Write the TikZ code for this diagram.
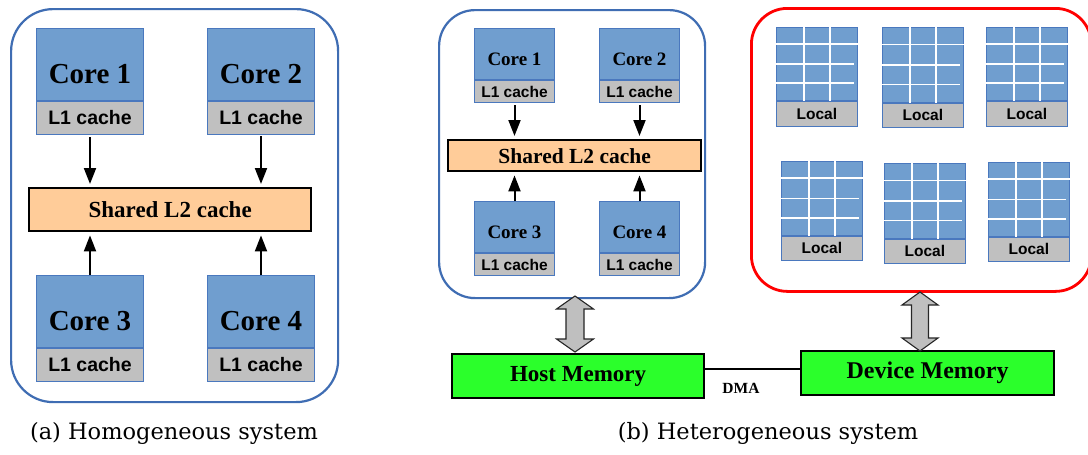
\documentclass[tikz,border=0pt]{standalone}
\usepackage{fontspec}
\setmainfont{Liberation Serif}
\setsansfont{Liberation Sans}
\newfontfamily\capfont{DejaVu Serif}
\usetikzlibrary{arrows.meta,calc}
\definecolor{coreblue}{HTML}{709ECF}
\definecolor{coreedge}{HTML}{4A78BE}
\definecolor{outerblue}{HTML}{3F6DB3}
\definecolor{lgray}{HTML}{C0C0C0}
\definecolor{l2orange}{HTML}{FFCC99}
\definecolor{memgreen}{HTML}{2BFF2B}
\definecolor{arrowgray}{HTML}{BFBFBF}
\newcommand\DblArrow[4]{% top coordinate, half head, half shaft, shaft length
  \draw[dblarrow] (#1) -- ++(#2,13) -- ++(-#2+#3,0) -- ++(0,#4) -- ++(#2-#3,0)
    -- ++(-#2,13) -- ++(-#2,-13) -- ++(#2-#3,0) -- ++(0,-#4) -- ++(-#2+#3,0) -- cycle;}
\begin{document}
\begin{tikzpicture}[x=1pt,y=-1pt,
  outerbox/.style={draw=outerblue, line width=2.2pt, rounded corners=#1, inner sep=0pt, anchor=north west},
  coreA/.style={draw=coreedge, fill=coreblue, line width=1pt, inner sep=0pt, anchor=north west,
    minimum width=107pt, minimum height=72pt, font=\bfseries\fontsize{29}{29}\selectfont,
    text height=38pt, text depth=0pt},
  l1A/.style={draw=coreedge, fill=lgray, line width=1pt, inner sep=0pt, anchor=north,
    minimum width=107pt, minimum height=33pt, font=\sffamily\bfseries\fontsize{19.5}{20}\selectfont},
  coreB/.style={draw=coreedge, fill=coreblue, line width=1pt, inner sep=0pt, anchor=north west,
    minimum width=80pt, minimum height=51pt, font=\bfseries\fontsize{19}{19}\selectfont,
    text height=23pt, text depth=0pt},
  l1B/.style={draw=coreedge, fill=lgray, line width=1pt, inner sep=0pt, anchor=north,
    minimum width=80pt, minimum height=22pt, font=\sffamily\bfseries\fontsize{15.5}{16}\selectfont},
  l2box/.style={draw=black, fill=l2orange, line width=2.4pt, inner sep=0pt, anchor=north west},
  flowarrow/.style={line width=2pt, -{Triangle[length=16pt,width=12pt]}},
  gridbox/.style={draw=coreedge, fill=coreblue, line width=0.8pt, inner sep=0pt, anchor=north west,
    minimum width=81pt, minimum height=73pt},
  localbox/.style={draw=coreedge, fill=lgray, line width=0.8pt, inner sep=0pt, anchor=north,
    minimum width=81pt, minimum height=25pt, font=\sffamily\bfseries\fontsize{15.5}{15.5}\selectfont},
  gridline/.style={draw=white, line width=1.5pt},
  membox/.style={draw=black, fill=memgreen, line width=2.2pt, inner sep=0pt, anchor=north west,
    minimum width=252pt, minimum height=44pt, font=\bfseries\fontsize{23}{23}\selectfont},
  dblarrow/.style={draw=black!85, fill=arrowgray, line width=1.1pt, line join=miter},
  dmaline/.style={draw=black, line width=1.8pt},
  caption/.style={font=\capfont\fontsize{22.5}{23}\selectfont}
]
\useasboundingbox (0,0) rectangle (1088,455);
\fill[white] (0,0) rectangle (1088,455);

% ---------------- (a) Homogeneous ----------------
\node[outerbox=42pt, minimum width=327pt, minimum height=393pt] (asys) at (10,8) {};
\node[coreA] (c1a) at (36,28) {Core 1};
\node[l1A] (l1a) at (c1a.south) {L1 cache};
\node[coreA] (c2a) at (207,28) {Core 2};
\node[l1A] (l2ca) at (c2a.south) {L1 cache};
\node[coreA] (c3a) at (36,275) {Core 3};
\node[l1A] (l3a) at (c3a.south) {L1 cache};
\node[coreA] (c4a) at (207,275) {Core 4};
\node[l1A] (l4a) at (c4a.south) {L1 cache};
\node[l2box, minimum width=282pt, minimum height=43pt, font=\bfseries\fontsize{23}{23}\selectfont]
  (sa) at (28,187) {Shared L2 cache};
\draw[flowarrow] ([yshift=-2pt]l1a.south) -- ([yshift=3pt]l1a.south |- sa.north);
\draw[flowarrow] ([yshift=-1pt]l2ca.south) -- ([yshift=3pt]l2ca.south |- sa.north);
\draw[flowarrow] (c3a.north) -- ([yshift=-3pt]c3a.north |- sa.south);
\draw[flowarrow] (c4a.north) -- ([yshift=-3pt]c4a.north |- sa.south);
\node[caption] (capa) at (174,433) {(a) Homogeneous system};

% ---------------- (b) Heterogeneous ----------------
\node[outerbox=36pt, minimum width=266pt, minimum height=288pt] (bsys) at (438,9) {};
\node[coreB] (c1b) at (474,28) {Core 1};
\node[l1B] (l1b) at (c1b.south) {L1 cache};
\node[coreB] (c2b) at (599,28) {Core 2};
\node[l1B] (l2cb) at (c2b.south) {L1 cache};
\node[coreB] (c3b) at (474,201) {Core 3};
\node[l1B] (l3b) at (c3b.south) {L1 cache};
\node[coreB] (c4b) at (599,201) {Core 4};
\node[l1B] (l4b) at (c4b.south) {L1 cache};
\node[l2box, minimum width=253pt, minimum height=31pt, font=\bfseries\fontsize{21.5}{22}\selectfont]
  (sb) at (447,139) {Shared L2 cache};
\draw[flowarrow] ([yshift=-2pt]l1b.south) -- ([yshift=3pt]l1b.south |- sb.north);
\draw[flowarrow] ([yshift=-2pt]l2cb.south) -- ([yshift=3pt]l2cb.south |- sb.north);
\draw[flowarrow] (c3b.north) -- ([yshift=-3pt]c3b.north |- sb.south);
\draw[flowarrow] (c4b.north) -- ([yshift=-3pt]c4b.north |- sb.south);

% device
\node[outerbox=36pt, draw=red, line width=2.8pt, minimum width=340pt, minimum height=283pt] (dev) at (750,7) {};
\node[gridbox] (g1) at (776,27) {};
\node[localbox] (g1l) at (g1.south) {Local};
\node[gridbox, minimum height=75pt] (g2) at (882,27) {};
\node[localbox, minimum height=24pt] (g2l) at (g2.south) {Local};
\node[gridbox] (g3) at (986,27) {};
\node[localbox] (g3l) at (g3.south) {Local};
\node[gridbox, minimum height=74pt] (g4) at (781,161) {};
\node[localbox, minimum height=24pt] (g4l) at (g4.south) {Local};
\node[gridbox, minimum height=75pt] (g5) at (884,163) {};
\node[localbox, minimum height=24pt] (g5l) at (g5.south) {Local};
\node[gridbox, minimum height=74pt] (g6) at (988,162) {};
\node[localbox, minimum height=24pt] (g6l) at (g6.south) {Local};
\foreach \g in {g1,g2,g3,g4,g5,g6}{
  \draw[gridline] ($(\g.north west)!0.34!(\g.north east)$) -- ($(\g.south west)!0.34!(\g.south east)$);
  \draw[gridline] ($(\g.north west)!0.66!(\g.north east)$) -- ($(\g.south west)!0.66!(\g.south east)$);
  \draw[gridline] ($(\g.north west)!0.23!(\g.south west)$) -- ($(\g.north east)!0.23!(\g.south east)$);
  \draw[gridline] ($(\g.north west)!0.5!(\g.south west)$) -- ($(\g.north east)!0.5!(\g.south east)+(-4,0)$);
  \draw[gridline] ($(\g.north west)!0.76!(\g.south west)$) -- ($(\g.north east)!0.76!(\g.south east)+(-4,0)$);
}

% memories
\node[membox] (host) at (451,353) {Host Memory};
\node[membox, minimum width=253pt, font=\bfseries\fontsize{24}{24}\selectfont] (device) at (800,350) {Device Memory};
\draw[dmaline] ([yshift=7pt]host.east) -- ([yshift=7pt]host.east -| device.west);
\node[font=\bfseries\fontsize{15.5}{15.5}\selectfont] (dma) at (741,388) {DMA};

% double arrows
\coordinate (hat) at (575,296);
\coordinate (dat) at (920,292);
\DblArrow{hat}{18.5}{9}{30}
\DblArrow{dat}{18}{8.5}{33}

\node[caption] (capb) at (768,433) {(b) Heterogeneous system};
\end{tikzpicture}
\end{document}
